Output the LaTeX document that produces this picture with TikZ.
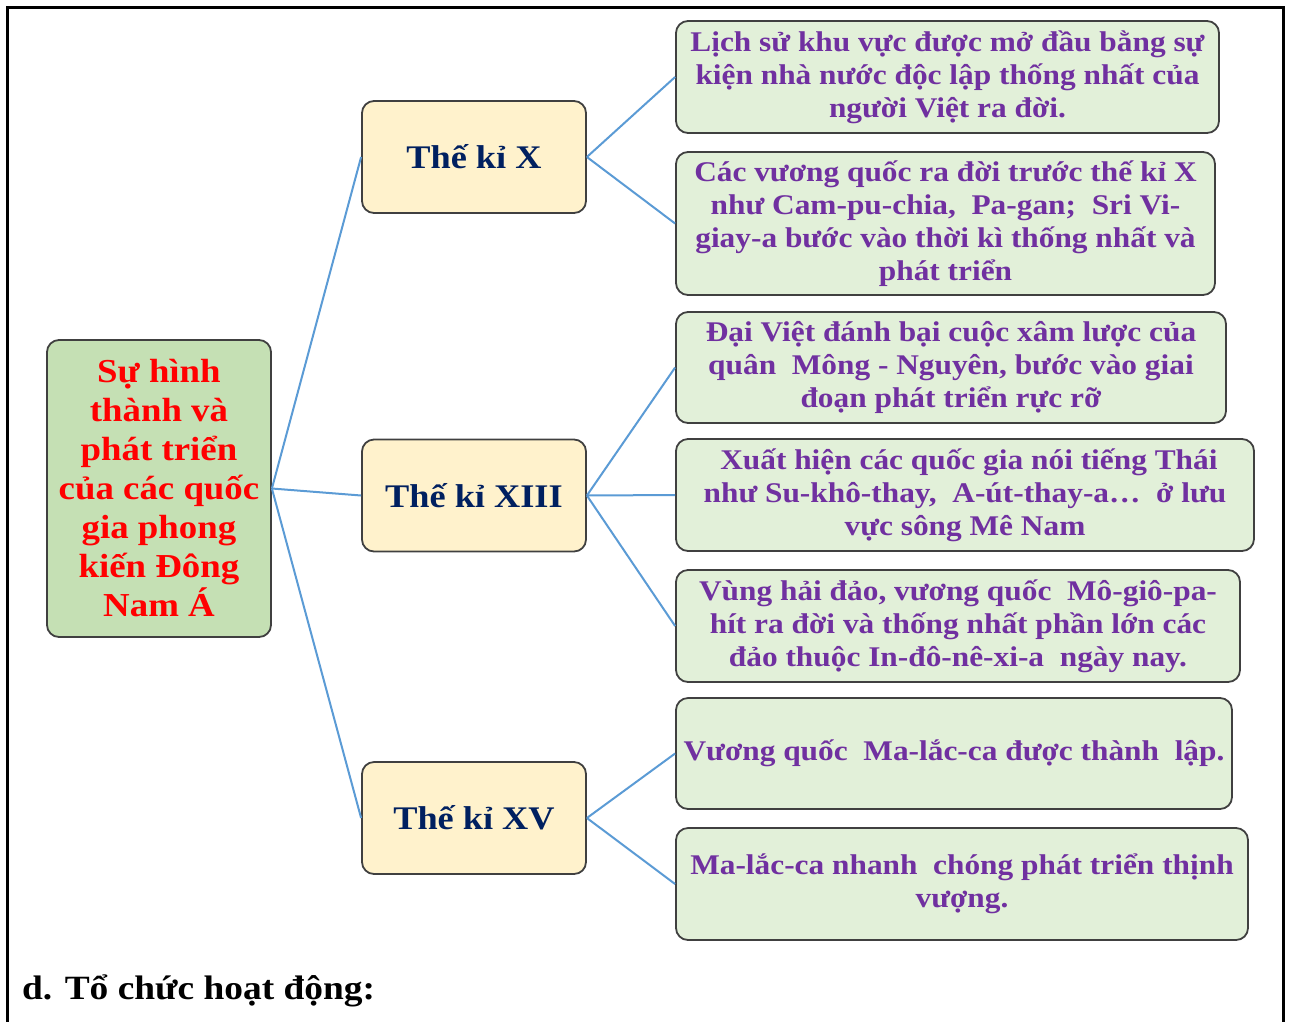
\documentclass[tikz,border=0pt]{standalone}
\usepackage{fontspec}
\setmainfont{Liberation Serif}[FakeStretch=1.1]
\definecolor{rootfill}{HTML}{C5E0B4}
\definecolor{midfill}{HTML}{FFF2CC}
\definecolor{leaffill}{HTML}{E2F0D9}
\definecolor{leaftext}{HTML}{7030A0}
\definecolor{midtext}{HTML}{002060}
\definecolor{edgeline}{HTML}{404040}
\definecolor{linkblue}{HTML}{5B9BD5}
\tikzset{
  boxbase/.style={draw=edgeline, line width=1.8pt, rounded corners=12pt, inner sep=0pt, align=center, font=\bfseries},
  rootbox/.style={boxbase, fill=rootfill, text=red, font=\bfseries\fontsize{33.5}{39}\selectfont},
  midbox/.style={boxbase, fill=midfill, text=midtext, minimum width=224pt, minimum height=112pt, font=\bfseries\fontsize{33}{40}\selectfont},
  leafbox/.style={boxbase, fill=leaffill, text=leaftext, font=\bfseries\fontsize{28.5}{33}\selectfont},
  link/.style={draw=linkblue, line width=2pt}
}
\begin{document}
\begin{tikzpicture}[x=1pt,y=-1pt]
\useasboundingbox (0,0) rectangle (1289,1021);
% frame
\draw[line width=3pt, line cap=rect] (7,1021) -- (7,7) -- (1283,7) -- (1283,1021);
% root
\node[rootbox, minimum width=224pt, minimum height=297pt] (root) at (159,488.5)
  {Sự hình\\thành và\\phát triển\\của các quốc\\gia phong\\kiến Đông\\Nam Á};
% middle
\node[midbox] (m1) at (474,157) {Thế kỉ X};
\node[midbox] (m2) at (474,495.5) {Thế kỉ XIII};
\node[midbox] (m3) at (474,818) {Thế kỉ XV};
% leaves
\node[leafbox, minimum width=543pt, minimum height=112pt] (l1) at (947.5,77)
  {Lịch sử khu vực được mở đầu bằng sự\\kiện nhà nước độc lập thống nhất của\\người Việt ra đời.};
\node[leafbox, minimum width=539pt, minimum height=143pt] (l2) at (945.5,223.5)
  {Các vương quốc ra đời trước thế kỉ X\\như Cam-pu-chia,\ \ Pa-gan;\ \ Sri Vi-\\giay-a bước vào thời kì thống nhất và\\phát triển};
\node[leafbox, minimum width=550pt, minimum height=111pt] (l3) at (951,367.5)
  {Đại Việt đánh bại cuộc xâm lược của\\quân\ \ Mông - Nguyên, bước vào giai\\đoạn phát triển rực rỡ};
\node[leafbox, minimum width=578pt, minimum height=112pt] (l4) at (965,495)
  {\ Xuất hiện các quốc gia nói tiếng Thái\\như Su-khô-thay,\ \ A-út-thay-a…\ \ ở lưu\\vực sông Mê Nam};
\node[leafbox, minimum width=564pt, minimum height=112pt] (l5) at (958,626)
  {Vùng hải đảo, vương quốc\ \ Mô-giô-pa-\\hít ra đời và thống nhất phần lớn các\\đảo thuộc In-đô-nê-xi-a\ \ ngày nay.};
\node[leafbox, minimum width=556pt, minimum height=111pt] (l6) at (954,753.5)
  {Vương quốc\ \ Ma-lắc-ca được thành\ \ lập.};
\node[leafbox, minimum width=572pt, minimum height=112pt] (l7) at (962,884)
  {Ma-lắc-ca nhanh\ \ chóng phát triển thịnh\\vượng.};
% links
\draw[link] (root.east) -- (m1.west);
\draw[link] (root.east) -- (m2.west);
\draw[link] (root.east) -- (m3.west);
\draw[link] (m1.east) -- (l1.west);
\draw[link] (m1.east) -- (l2.west);
\draw[link] (m2.east) -- (l3.west);
\draw[link] (m2.east) -- (l4.west);
\draw[link] (m2.east) -- (l5.west);
\draw[link] (m3.east) -- (l6.west);
\draw[link] (m3.east) -- (l7.west);
% bottom heading
\node[anchor=base west, inner sep=0pt, font=\bfseries\fontsize{34}{38}\selectfont] (head) at (22,999) {d. Tổ chức hoạt động:};
\end{tikzpicture}
\end{document}
